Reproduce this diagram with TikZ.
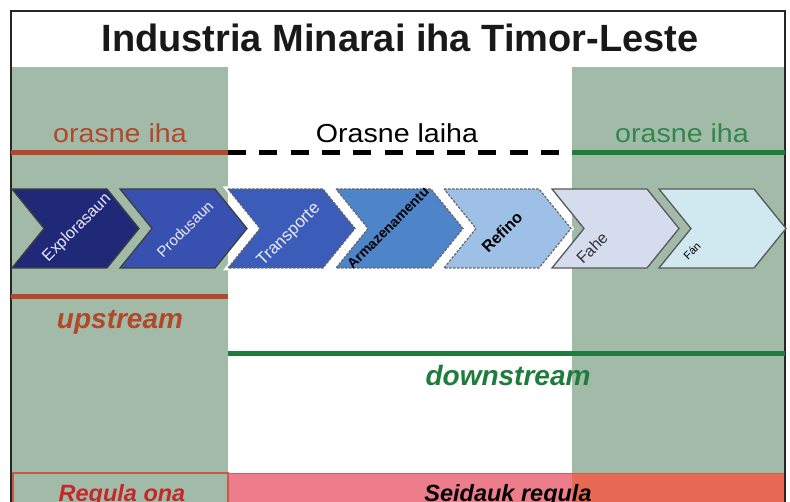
\documentclass[tikz,border=0pt]{standalone}
\usepackage{fontspec}
\setmainfont{Liberation Sans}
\definecolor{bandgreen}{RGB}{162,187,168}
\definecolor{upred}{RGB}{178,72,42}
\definecolor{downgreen}{RGB}{30,125,60}
\definecolor{txtgreen}{RGB}{50,135,75}
\definecolor{regred}{RGB}{198,40,40}
\definecolor{pinkband}{RGB}{238,125,140}
\definecolor{orangeband}{RGB}{232,106,85}
\definecolor{cA}{RGB}{32,40,120}
\definecolor{cB}{RGB}{56,80,175}
\definecolor{cC}{RGB}{60,92,186}
\definecolor{cD}{RGB}{78,132,200}
\definecolor{cE}{RGB}{158,192,230}
\definecolor{cF}{RGB}{212,220,238}
\definecolor{cG}{RGB}{208,233,240}
\begin{document}
\begin{tikzpicture}[x=1pt,y=-1pt,
  chev/.pic={\path[pic actions] (0,0) -- (95,0) -- (127,39.5) -- (95,79) -- (0,79) -- (32,39.5) -- cycle;},
  solidchev/.style={draw=black!75, line width=1.3},
  dashchev/.style={draw=black!60, line width=1.2, dash pattern=on 2.5pt off 1.5pt},
  halo/.style={draw=white, line width=5},
  chevtxt/.style={rotate=45, inner sep=0pt},
  thickline/.style={line width=5},
  lbl/.style={anchor=base, inner sep=0pt, font=\fontsize{26}{28}\selectfont, xscale=1.1},
  bigital/.style={anchor=base, inner sep=0pt, font=\fontsize{28}{30}\selectfont\bfseries\itshape},
  botital/.style={anchor=base, inner sep=0pt, font=\fontsize{23.5}{26}\selectfont\bfseries\itshape}]
\useasboundingbox (0,0) rectangle (790,502);
\clip (0,0) rectangle (790,502);
\fill[white] (0,0) rectangle (790,502);
% background bands
\fill[bandgreen] (11,67) rectangle (228,473);
\fill[bandgreen] (572,67) rectangle (785,473);
\fill[bandgreen] (11,473) rectangle (228,510);
\fill[pinkband] (228,473) rectangle (572,510);
\fill[orangeband] (572,473) rectangle (785,510);
\draw[orangeband!85!black, line width=1.2] (13,473) rectangle (228,515);
\draw[orangeband!90!black, line width=1] (228,473) -- (785,473);
% frame
\draw[black!85, line width=2] (11,11) rectangle (785,520);
% title
\node[anchor=base, inner sep=0pt, font=\fontsize{38}{40}\selectfont\bfseries, text=black!90] (title) at (400,52) {Industria Minarai iha Timor-Leste};
% top labels and lines
\node[lbl, text=upred] (oil) at (120,143) {orasne iha};
\node[lbl, text=black] (olaiha) at (397,143) {Orasne laiha};
\node[lbl, text=txtgreen] (oir) at (682,143) {orasne iha};
\coordinate (l1a) at (11,153);
\coordinate (l1b) at (228,153);
\coordinate (l1c) at (572,153);
\coordinate (l1d) at (785,153);
\draw[thickline, upred] (l1a) -- (l1b);
\draw[thickline, black, dash pattern=on 18pt off 13.3pt] (l1b) -- (l1c);
\draw[thickline, downgreen] (l1c) -- (l1d);
% chevrons
\pic[fill=cA, solidchev] at (12,189) {chev};
\pic[fill=cB, solidchev] at (120,189) {chev};
\pic[halo] at (228,189) {chev};
\pic[fill=cC, dashchev] at (228,189) {chev};
\pic[halo] at (336,189) {chev};
\pic[fill=cD, dashchev] at (336,189) {chev};
\pic[halo] at (444,189) {chev};
\pic[fill=cE, dashchev] at (444,189) {chev};
\pic[fill=cF, solidchev, draw=black!65] at (552,189) {chev};
\pic[fill=cG, solidchev, draw=black!65] at (659,189) {chev};
\node[chevtxt, text=white!92!blue, font=\fontsize{16}{18}\selectfont] (t1) at (77,228) {Explorasaun};
\node[chevtxt, text=white!92!blue, font=\fontsize{15}{17}\selectfont] (t2) at (185,229) {Produsaun};
\node[chevtxt, text=white!92!blue, font=\fontsize{17}{19}\selectfont] (t3) at (289,235) {Transporte};
\node[chevtxt, text=black, font=\fontsize{14}{16}\selectfont\bfseries] (t4) at (388,228) {Armazenamentu};
\node[chevtxt, text=black, font=\fontsize{16}{18}\selectfont\bfseries] (t5) at (502,232) {Refino};
\node[chevtxt, text=black!80, font=\fontsize{16}{18}\selectfont] (t6) at (592,248) {Fahe};
\node[chevtxt, text=black, font=\fontsize{11}{13}\selectfont] (t7) at (692,251) {Fán};
% upstream / downstream
\coordinate (l2a) at (11,297);
\coordinate (l2b) at (228,297);
\draw[thickline, upred] (l2a) -- (l2b);
\node[bigital, text=upred] (up) at (120,329) {upstream};
\coordinate (l3a) at (228,354);
\coordinate (l3b) at (785,354);
\draw[thickline, downgreen] (l3a) -- (l3b);
\node[bigital, text=downgreen] (down) at (508,386) {downstream};
% bottom labels
\node[botital, text=regred] (reg) at (122,501) {Regula ona};
\node[botital, text=black] (seid) at (508,501) {Seidauk regula};
\end{tikzpicture}
\end{document}
